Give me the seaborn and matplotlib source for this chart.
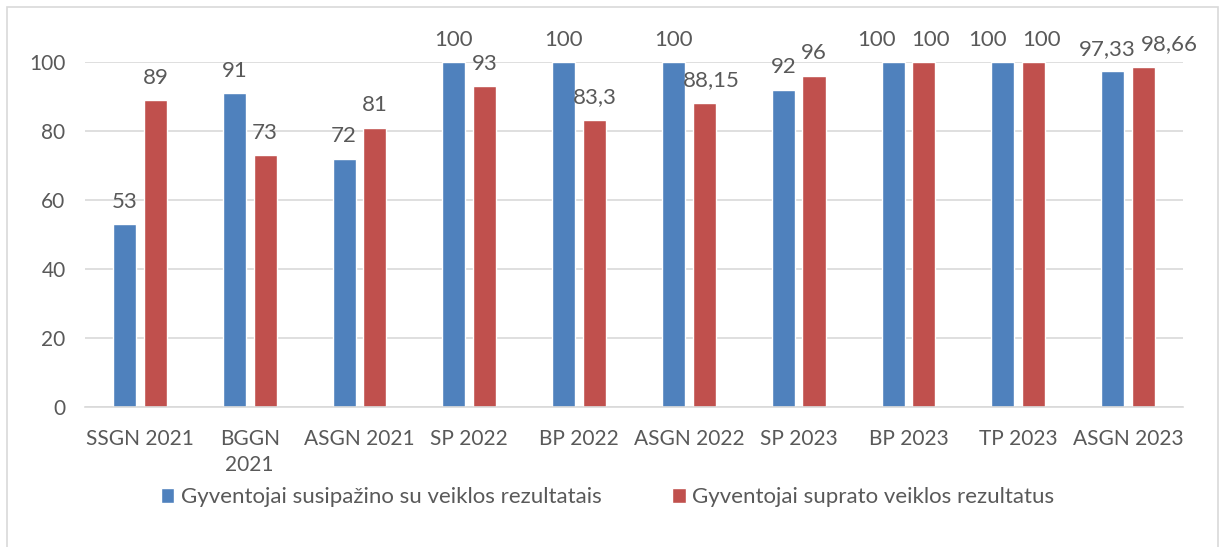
import matplotlib
matplotlib.use("Agg")
import matplotlib.pyplot as plt
import seaborn as sns
import pandas as pd
from matplotlib.patches import Rectangle

# duomenys
kategorijos = ["SSGN 2021", "BGGN 2021", "ASGN 2021", "SP 2022", "BP 2022",
               "ASGN 2022", "SP 2023", "BP 2023", "TP 2023", "ASGN 2023"]
asis_zymes = ["SSGN 2021", "BGGN\n2021", "ASGN 2021", "SP 2022", "BP 2022",
              "ASGN 2022", "SP 2023", "BP 2023", "TP 2023", "ASGN 2023"]
susipazino = [53, 91, 72, 100, 100, 100, 92, 100, 100, 97.33]
suprato = [89, 73, 81, 93, 83.3, 88.15, 96, 100, 100, 98.66]
serijos = ["Gyventojai susipažino su veiklos rezultatais",
           "Gyventojai suprato veiklos rezultatus"]
spalvos = ["#4F81BD", "#C0504D"]

# etikeciu poslinkis i sonus (taskais), kaip originale
poslinkis_1 = [0, 0, 0, 0, 0, 0, 0, -12, -11, -4]
poslinkis_2 = [0, 0, 0, 0, 0, 5, 0, 5, 6, 19]

df = pd.DataFrame({
    "kategorija": kategorijos * 2,
    "reiksme": susipazino + suprato,
    "serija": [serijos[0]] * len(kategorijos) + [serijos[1]] * len(kategorijos),
})

sns.set_style("white")
plt.rcParams["font.family"] = ["Lato", "DejaVu Sans"]
teksto_spalva = "#595959"
fs = 15

fig = plt.figure(figsize=(12.22, 5.47), dpi=100)
ax = fig.add_axes([0.0696, 0.256, 0.8984, 0.6305])

sns.barplot(data=df, x="kategorija", y="reiksme", hue="serija",
            palette=spalvos, width=0.56, gap=0.25, saturation=1,
            ax=ax, legend=True)

def fmt(v):
    return ("%g" % v).replace(".", ",")

for cont, vals, posl in zip(ax.containers, [susipazino, suprato],
                            [poslinkis_1, poslinkis_2]):
    lbls = ax.bar_label(cont, labels=[fmt(v) for v in vals], padding=9,
                        fontsize=16, color=teksto_spalva)
    for t, dx in zip(lbls, posl):
        t.xyann = (dx, 9)
        t.set_clip_on(False)

ax.set_ylim(0, 100)
ax.set_xlim(-0.5, len(kategorijos) - 0.5)
ax.set_yticks([0, 20, 40, 60, 80, 100])
ax.yaxis.grid(True, color="#D9D9D9", linewidth=1.2)
ax.set_axisbelow(True)
ax.set_xticks(range(len(kategorijos)))
ax.set_xticklabels(asis_zymes, linespacing=1.35)
ax.tick_params(axis="both", length=0, labelsize=fs, colors=teksto_spalva)
ax.tick_params(axis="x", pad=16)
ax.tick_params(axis="y", pad=14)
ax.set_xlabel("")
ax.set_ylabel("")
for s in ["top", "right", "left"]:
    ax.spines[s].set_visible(False)
ax.spines["bottom"].set_color("#D9D9D9")
ax.spines["bottom"].set_linewidth(1.2)

ax.legend(loc="center", bbox_to_anchor=(0.476, -0.262), ncol=2, frameon=False,
          fontsize=16, labelcolor=teksto_spalva, handlelength=0.6,
          handleheight=0.6, handletextpad=0.3, columnspacing=3.2)

fig.patches.append(Rectangle((7 / 1222, -0.01), 1211 / 1222, 1 - 7 / 547 + 0.01,
                             transform=fig.transFigure, fill=False,
                             edgecolor="#D9D9D9", linewidth=1.2))

fig.savefig("out.png", dpi=100)
